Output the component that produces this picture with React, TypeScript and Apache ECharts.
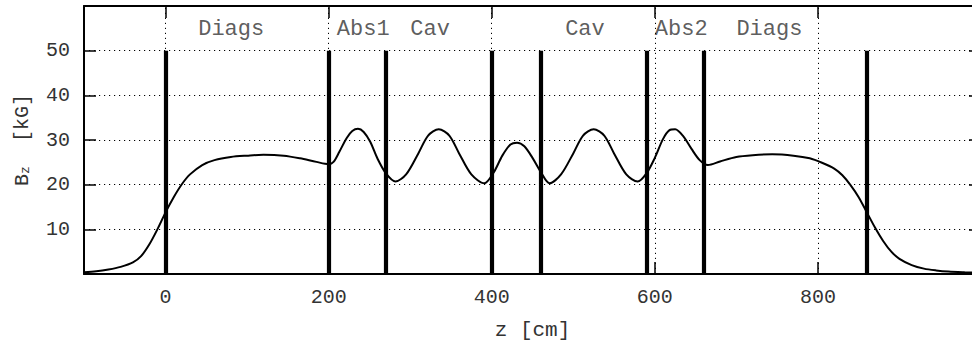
import React, { useEffect, useRef } from 'react';
import * as echarts from 'echarts';

// Field profile B_z (kG) along z (cm)
const zValues = [
  -100, -85, -70, -55, -40, -30, -20, -10, 0, 10, 20, 30, 45, 60, 80, 100, 120, 145, 165, 185, 200,
  206, 213, 222, 229, 236, 243, 251, 260, 270, 282, 295, 310, 322, 335, 348, 360, 375, 391,
  402, 413, 423, 431, 440, 450, 460, 471, 485, 500, 512, 525, 538, 550, 565, 579,
  590, 600, 610, 618, 625, 635, 645, 655, 665, 680, 700, 720, 744, 770, 790, 805,
  820, 830, 840, 850, 860, 870, 880, 890, 900, 915, 930, 945, 960, 980, 1000,
];
const bzValues = [
  0.4, 0.6, 1.0, 1.6, 2.6, 4.0, 6.6, 10.0, 13.8, 17.2, 20.1, 22.3, 24.4, 25.5, 26.2, 26.5, 26.7, 26.5, 25.9, 25.1, 24.6,
  25.1, 27.3, 30.4, 32.0, 32.5, 31.8, 29.6, 25.8, 22.6, 20.7, 22.3, 27.0, 31.0, 32.4, 31.0, 27.0, 22.3, 20.3,
  22.6, 26.5, 29.0, 29.4, 28.6, 26.0, 22.9, 20.3, 22.3, 27.0, 31.0, 32.4, 31.0, 27.0, 22.3, 20.7,
  22.6, 26.0, 30.2, 32.2, 32.4, 30.8, 28.0, 25.5, 24.4, 25.2, 26.2, 26.6, 26.8, 26.5, 25.9, 24.9,
  23.6, 22.1, 19.9, 17.2, 13.8, 10.4, 7.4, 5.0, 3.4, 2.0, 1.2, 0.8, 0.55, 0.4, 0.3,
];

// Element boundaries (thick vertical bars)
const magnetZ = [0, 200, 270, 400, 460, 590, 660, 860];
const magnetTop = 50;

// Axis ticks
const xTickValues = [0, 200, 400, 600, 800, 1000];
const xLabelValues = [0, 200, 400, 600, 800];
const xGridValues = [0, 200, 400, 600, 800];

// Region annotations
const regionNames = ['Diags', 'Abs1', 'Cav', 'Cav', 'Abs2', 'Diags'];
const regionZ = [40, 210, 300, 490, 600, 700];
const regionBz = 54.7;

const FONT = "'Liberation Mono', 'DejaVu Sans Mono', monospace";
const SERIF_MONO = "'Courier New', 'Liberation Mono', monospace";

export default function App() {
  const ref = useRef<HTMLDivElement>(null);

  useEffect(() => {
    if (!ref.current) return;
    const chart = echarts.init(ref.current, undefined, { renderer: 'svg' });
    const dotted = { color: '#000', width: 1, type: [1.2, 3.8] as any };
    const frameLine = { show: true, onZero: false, lineStyle: { color: '#000', width: 2 } };
    const tick = { show: true, inside: true, length: 12, lineStyle: { color: '#000', width: 1.5 } };

    chart.setOption({
      animation: false,
      grid: { left: 84, right: 9, top: 6, bottom: 72, containLabel: false, outerBoundsMode: 'none' },
      xAxis: [
        {
          type: 'value', min: -100, max: 1000, position: 'bottom',
          axisLine: frameLine,
          axisTick: { ...tick, customValues: xTickValues },
          axisLabel: { customValues: xLabelValues, fontFamily: FONT, fontSize: 20, color: '#333', margin: 13 },
          splitLine: { show: false },
          name: 'z [cm]', nameLocation: 'middle', nameGap: 46,
          nameTextStyle: { fontFamily: SERIF_MONO, fontSize: 21, color: '#333' },
        },
        {
          type: 'value', min: -100, max: 1000, position: 'top',
          axisLine: frameLine,
          axisTick: { ...tick, customValues: xTickValues },
          axisLabel: { show: false },
          splitLine: { show: false },
        },
      ],
      yAxis: [
        {
          type: 'value', min: 0, max: 60, interval: 10, position: 'left',
          axisLine: frameLine,
          axisTick: tick,
          axisLabel: { showMinLabel: false, showMaxLabel: false, fontFamily: FONT, fontSize: 20, color: '#333', margin: 14 },
          splitLine: { show: true, lineStyle: dotted },
          name: '{b|B}{s|z}{b|  [kG]}', nameLocation: 'middle', nameGap: 52, nameRotate: 90,
          nameTextStyle: {
            rich: {
              b: { fontFamily: SERIF_MONO, fontSize: 20, color: '#333', lineHeight: 26, verticalAlign: 'bottom' },
              s: { fontFamily: SERIF_MONO, fontSize: 13, color: '#333', lineHeight: 8, verticalAlign: 'bottom' },
            },
          },
        },
        {
          type: 'value', min: 0, max: 60, interval: 10, position: 'right',
          axisLine: frameLine,
          axisTick: tick,
          axisLabel: { show: false },
          splitLine: { show: false },
        },
      ],
      series: [
        {
          type: 'line', data: [], silent: true, z: 1,
          markLine: {
            silent: true, symbol: 'none', label: { show: false },
            emphasis: { disabled: true },
            lineStyle: dotted,
            data: xGridValues.map((v) => ({ xAxis: v })),
          },
        },
        {
          type: 'line', data: zValues.map((z, i) => [z, bzValues[i]]),
          showSymbol: false, symbol: 'none', smooth: 0.3, silent: true, z: 2,
          lineStyle: { color: '#000', width: 2 },
        },
        {
          type: 'line', data: [], silent: true, z: 3,
          markLine: {
            silent: true, symbol: 'none', label: { show: false },
            emphasis: { disabled: true },
            lineStyle: { color: '#000', width: 4.2, type: 'solid' },
            data: magnetZ.map((z) => [{ coord: [z, 0] }, { coord: [z, magnetTop] }]),
          },
        },
        {
          type: 'scatter', silent: true, z: 4,
          symbolSize: 0.1, itemStyle: { color: 'transparent' },
          data: regionNames.map((n, i) => ({ name: n, value: [regionZ[i], regionBz] })),
          label: {
            show: true, formatter: '{b}', position: 'right', distance: 0,
            fontFamily: SERIF_MONO, fontSize: 22, color: '#333',
          },
        },
      ],
    });
    return () => chart.dispose();
  }, []);

  return (
    <div
      style={{ position: 'absolute', left: 0, top: 0, width: 972, height: 346, overflow: 'hidden', background: '#fff' }}
    >
      <div ref={ref} style={{ width: 990, height: 346 }} />
    </div>
  );
}
